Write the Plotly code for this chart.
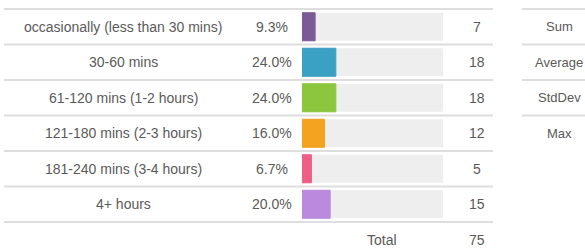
import plotly.graph_objects as go

categories = ["occasionally (less than 30 mins)", "30-60 mins", "61-120 mins (1-2 hours)",
              "121-180 mins (2-3 hours)", "181-240 mins (3-4 hours)", "4+ hours"]
percents = [9.3, 24.0, 24.0, 16.0, 6.7, 20.0]
counts = [7, 18, 18, 12, 5, 15]
total = 75
colors = ["#7a5b97", "#3aa0c4", "#8cc63e", "#f4a321", "#ee5f86", "#bb8ade"]
stat_labels = ["Sum", "Average", "StdDev", "Max"]

W, H = 585, 252
ROW = 35.5
TOP = 9
rows = list(range(len(categories)))

def px(x):
    return x / W

y_top = -0.5 - TOP / ROW
y_bot = -0.5 + (H - TOP) / ROW

fig = go.Figure()
fig.add_trace(go.Bar(y=rows, x=[100] * len(rows), orientation="h",
                     marker=dict(color="#eeeeee", line=dict(width=0)), width=0.79,
                     hoverinfo="skip"))
fig.add_trace(go.Bar(y=rows, x=percents, orientation="h",
                     marker=dict(color=colors, line=dict(color=colors, width=1)), width=0.79))

text_font = dict(family="Liberation Sans, Arial, sans-serif", size=14, color="#5a5a5a")
stat_font = dict(family="Liberation Sans, Arial, sans-serif", size=13, color="#5a5a5a")
ann = []
for i, (c, p, n) in enumerate(zip(categories, percents, counts)):
    ann.append(dict(x=px(123), y=i, xref="paper", yref="y", text=c, showarrow=False,
                    xanchor="center", font=text_font))
    ann.append(dict(x=px(272), y=i, xref="paper", yref="y", text=f"{p:.1f}%", showarrow=False,
                    xanchor="center", font=text_font))
    ann.append(dict(x=px(477), y=i, xref="paper", yref="y", text=str(n), showarrow=False,
                    xanchor="center", font=text_font))
ann.append(dict(x=px(382), y=len(categories), xref="paper", yref="y", text="Total",
                showarrow=False, xanchor="center", font=text_font))
ann.append(dict(x=px(477), y=len(categories), xref="paper", yref="y", text=str(total),
                showarrow=False, xanchor="center", font=text_font))
for i, s in enumerate(stat_labels):
    ann.append(dict(x=px(559), y=i, xref="paper", yref="y", text=s, showarrow=False,
                    xanchor="center", font=stat_font))

shapes = []
line_style = dict(color="#dedede", width=2)
for k in range(len(categories) + 1):
    yv = k - 0.5
    shapes.append(dict(type="line", xref="paper", yref="y", x0=px(4), x1=px(493),
                       y0=yv, y1=yv, line=line_style, layer="below"))
for k in range(len(stat_labels)):
    yv = k - 0.5
    shapes.append(dict(type="line", xref="paper", yref="y", x0=px(522), x1=1.0,
                       y0=yv, y1=yv, line=line_style, layer="below"))

fig.update_layout(
    width=W, height=H, margin=dict(l=0, r=0, t=0, b=0),
    barmode="overlay", showlegend=False,
    paper_bgcolor="white", plot_bgcolor="white",
    xaxis=dict(domain=[px(302), px(443)], range=[0, 100], visible=False, fixedrange=True),
    yaxis=dict(range=[y_bot, y_top], visible=False, fixedrange=True),
    annotations=ann, shapes=shapes,
)
fig.write_html("out.html")
